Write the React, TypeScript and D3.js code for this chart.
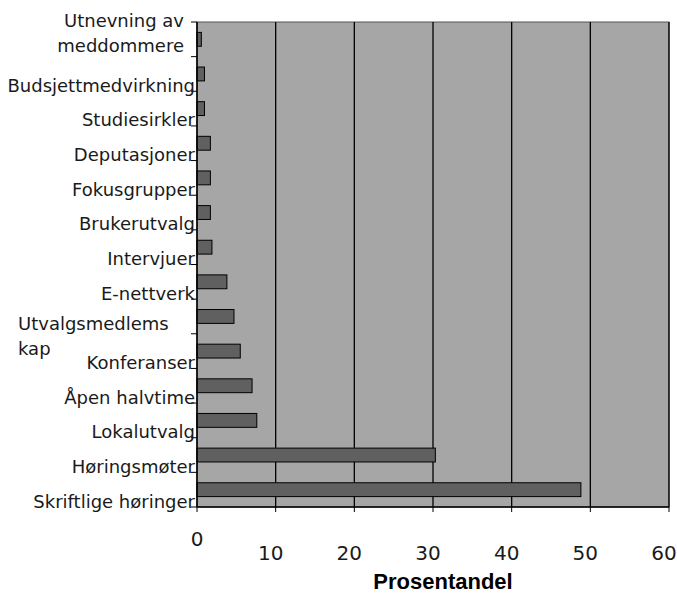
import React from "react";
import * as d3 from "d3";

const categories: string[][] = [
  ["Utnevning av", "meddommere"],
  ["Budsjettmedvirkning"],
  ["Studiesirkler"],
  ["Deputasjoner"],
  ["Fokusgrupper"],
  ["Brukerutvalg"],
  ["Intervjuer"],
  ["E-nettverk"],
  ["Utvalgsmedlems", "kap"],
  ["Konferanser"],
  ["Åpen halvtime"],
  ["Lokalutvalg"],
  ["Høringsmøter"],
  ["Skriftlige høringer"],
];
const values: number[] = [0.55, 0.95, 0.95, 1.7, 1.7, 1.7, 1.9, 3.8, 4.7, 5.5, 7.0, 7.6, 30.3, 48.8];
const xTicks: number[] = [0, 10, 20, 30, 40, 50, 60];
const xTitle = "Prosentandel";

const W = 677;
const H = 594;
const M = { left: 197, right: 669, top: 22, bottom: 507 };
const FONT = "'DejaVu Sans', sans-serif";

export default function App() {
  const ids = categories.map((_, i) => String(i));
  const x = d3.scaleLinear().domain([0, 60]).range([M.left, M.right]);
  const y = d3
    .scaleBand<string>()
    .domain(ids)
    .range([M.top, M.bottom])
    .paddingInner(0.6)
    .paddingOuter(0.3);
  const step = y.step();
  const bandTop = (i: number) => M.top + i * step;
  const bandBottom = (i: number) => M.top + (i + 1) * step;

  return (
    <svg
      width={W}
      height={H}
      style={{ position: "absolute", left: 0, top: 0, background: "#fff" }}
    >
      <rect
        x={M.left}
        y={M.top}
        width={M.right - M.left}
        height={M.bottom - M.top}
        fill="#a6a6a6"
        stroke="#555"
        strokeWidth={1}
      />
      {xTicks.slice(1).map((t) => (
        <line key={"g" + t} x1={x(t)} x2={x(t)} y1={M.top} y2={M.bottom} stroke="#000" strokeWidth={1.3} />
      ))}
      {values.map((v, i) => (
        <rect
          key={"b" + i}
          x={x(0)}
          y={y(String(i))!}
          width={x(v) - x(0)}
          height={y.bandwidth()}
          fill="#606060"
          stroke="#000"
          strokeWidth={1}
        />
      ))}
      {/* axes */}
      <line x1={M.left} x2={M.left} y1={M.top} y2={M.bottom} stroke="#000" strokeWidth={1.6} />
      <line x1={M.left} x2={M.right} y1={M.bottom} y2={M.bottom} stroke="#000" strokeWidth={1.3} />
      {d3.range(categories.length + 1).map((i) => (
        <line key={"yt" + i} x1={M.left - 6} x2={M.left} y1={M.top + i * step} y2={M.top + i * step} stroke="#000" strokeWidth={1} />
      ))}
      {xTicks.map((t) => (
        <line key={"xt" + t} x1={x(t)} x2={x(t)} y1={M.bottom} y2={M.bottom + 5} stroke="#000" strokeWidth={1} />
      ))}
      {/* category labels */}
      {categories.map((lines, i) => {
        if (lines.length === 1) {
          return (
            <text
              key={"l" + i}
              x={195}
              y={bandBottom(i) - 4.5}
              textAnchor="end"
              dominantBaseline="middle"
              fontFamily={FONT}
              fontSize={18}
              fill="#1a1a1a"
            >
              {lines[0]}
            </text>
          );
        }
        const first = i === 0;
        const y0 = first ? bandTop(i) : bandBottom(i) - 9;
        const lx = first ? 184 : 18;
        return (
          <text
            key={"l" + i}
            x={lx}
            y={y0}
            textAnchor={first ? "end" : "start"}
            dominantBaseline="middle"
            fontFamily={FONT}
            fontSize={18}
            fill="#1a1a1a"
          >
            {lines.map((ln, k) => (
              <tspan key={k} x={lx} dy={k === 0 ? 0 : 25}>
                {ln}
              </tspan>
            ))}
          </text>
        );
      })}
      {/* x tick labels */}
      {xTicks.map((t, i) => (
        <text
          key={"xl" + t}
          x={i === 0 ? x(t) : x(t) - 5}
          y={i === 0 ? 540 : 554}
          textAnchor="middle"
          dominantBaseline="middle"
          fontFamily={FONT}
          fontSize={20}
          fill="#1a1a1a"
        >
          {t}
        </text>
      ))}
      <text
        x={443}
        y={589}
        textAnchor="middle"
        fontFamily="'Liberation Sans', Arial, sans-serif"
        fontWeight="bold"
        fontSize={22}
        fill="#000"
      >
        {xTitle}
      </text>
    </svg>
  );
}
